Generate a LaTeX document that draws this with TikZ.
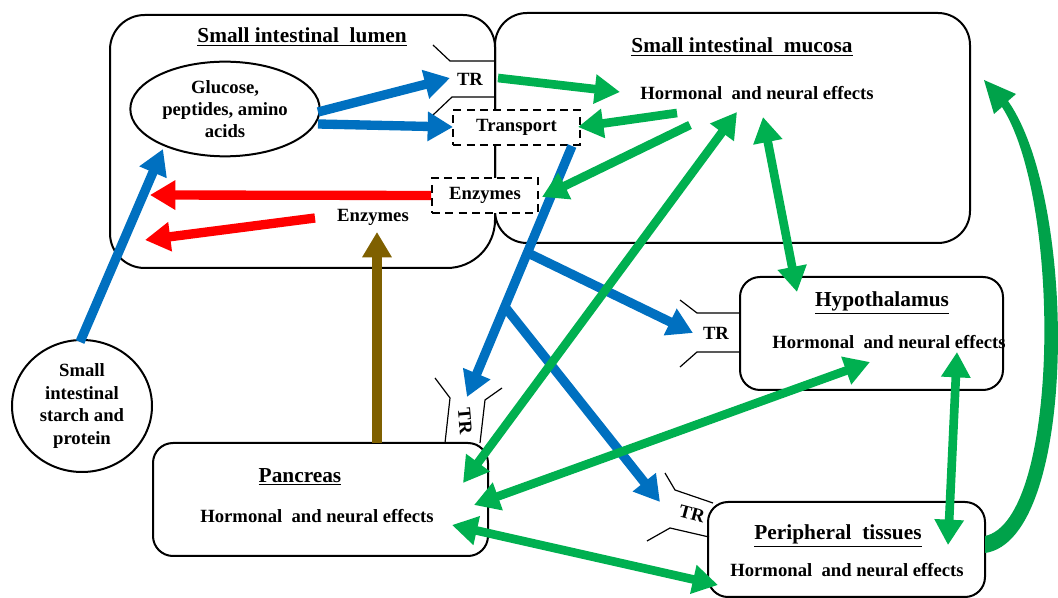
\documentclass[tikz,border=0pt]{standalone}
\usepackage{fontspec}
\setmainfont{Liberation Serif}
\usetikzlibrary{arrows.meta,fit,shapes.geometric}
\definecolor{cblue}{RGB}{0,112,192}
\definecolor{cgreen}{RGB}{0,176,80}
\definecolor{cred}{RGB}{255,0,0}
\definecolor{cbrown}{RGB}{127,96,0}
\begin{document}
\begin{tikzpicture}[x=0.75pt,y=-0.75pt,
  frame/.style={draw,line width=1.5pt},
  rbox/.style={draw,line width=1.5pt,rounded corners=15pt,inner sep=0pt},
  dbox/.style={draw,line width=1.4pt,dash pattern=on 6pt off 4pt,fill=white,inner sep=0pt,font=\bfseries\fontsize{14}{17}\selectfont},
  txt/.style={font=\bfseries\fontsize{14}{17}\selectfont,align=center,inner sep=1pt},
  ttl/.style={font=\bfseries\fontsize{16}{19}\selectfont,inner sep=1pt},
  rec/.style={line width=0.9pt},
  barr/.style={line width=7pt,-{Triangle[length=19pt,width=21pt]}},
  garr/.style={line width=6.5pt,cgreen,-{Triangle[length=19pt,width=21pt]}},
  gdarr/.style={line width=6.5pt,cgreen,{Triangle[length=19pt,width=21pt]}-{Triangle[length=19pt,width=21pt]}}]
\useasboundingbox (0,0) rectangle (1058,598);

% ---------- big boxes ----------
\draw[frame,rounded corners=24pt] (300,15) -- (495,15) -- (495,150);
\draw[frame,rounded corners=36pt] (495,150) -- (495,268) -- (300,268);
\draw[frame,rounded corners=26pt] (300,268) -- (110,268) -- (110,15) -- (300,15);
\draw[frame,rounded corners=24pt] (495,13) rectangle (970,243);

\node[rbox,fit={(740,277) (1003,390)}] (hyp) {};
\node[rbox,fit={(708,502) (985,597)}] (per) {};
\node[rbox,fit={(153,443) (488,556)}] (pan) {};

\node[draw,ellipse,line width=1.5pt,minimum width=142pt,minimum height=71pt,inner sep=0pt,
      font=\bfseries\fontsize{14}{16.5}\selectfont,align=center] (glu) at (225,109)
      {Glucose,\\peptides, amino\\acids};
\node[draw,ellipse,line width=1.5pt,minimum width=105pt,minimum height=99pt,inner sep=0pt,
      font=\bfseries\fontsize{14}{17}\selectfont,align=center] (sta) at (82,406)
      {Small\\intestinal\\starch and\\protein};

% ---------- receptors ----------
\draw[rec] (433,45) -- (450,61) -- (495,61);
\draw[rec] (433,115) -- (452,97) -- (495,97);
\draw[rec] (680,300) -- (697,313) -- (740,313);
\draw[rec] (680,367) -- (697,352) -- (740,352);
\draw[rec] (435,378) -- (450,398) -- (445,443);
\draw[rec] (502,388) -- (485,400) -- (480,443);
\draw[rec] (665,473) -- (675,490) -- (713,503);
\draw[rec] (647,541) -- (670,528) -- (709,537);

\node[txt] (tr1) at (470,79) {TR};
\node[txt] (tr2) at (716,333) {TR};
\node[txt,rotate=-85,inner sep=0pt] (tr3) at (465,421) {TR};
\node[txt,rotate=-15,inner sep=0pt] (tr4) at (692,514) {TR};

% ---------- dashed boxes ----------
\node[dbox,minimum width=95pt,minimum height=26pt] (tra) at (516.5,127.5) {Transport};
\node[dbox,minimum width=79.5pt,minimum height=26pt] (enz) at (485,195.5) {Enzymes};

% ---------- texts ----------
\node[ttl] (lumt) at (302,37) {\underline{Small intestinal\ \ lumen}};
\node[ttl] (muct) at (742,47) {\underline{Small intestinal\ \ mucosa}};
\node[txt] (muce) at (757,93) {Hormonal\ \ and neural effects};
\node[txt] (enzl) at (373,217) {Enzymes};
\node[ttl] (hypt) at (882,303) {\underline{Hypothalamus}};
\node[txt] (hype) at (889,342) {Hormonal\ \ and neural effects};
\node[ttl] (pert) at (838,536) {\underline{Peripheral\ \ tissues}};
\node[txt] (pere) at (847,570) {Hormonal\ \ and neural effects};
\node[ttl] (pant) at (300,477) {\underline{Pancreas}};
\node[txt] (pane) at (317,516) {Hormonal\ \ and neural effects};

% ---------- connector end points ----------
\coordinate (b1s) at (80,342);   \coordinate (b1e) at (163,149);
\coordinate (b2s) at (318,112);  \coordinate (b2e) at (450,78);
\coordinate (b3s) at (318,124);  \coordinate (b3e) at (453,127);
\coordinate (bms) at (572,146);  \coordinate (bme) at (467,397);
\coordinate (bb1) at (528,253);  \coordinate (bb1e) at (693,333);
\coordinate (bb2) at (505,307);  \coordinate (bb2e) at (660,502);
\coordinate (r1e) at (150,195);
\coordinate (r2s) at (315,218);  \coordinate (r2e) at (145,240);
\coordinate (brs) at (377,443);  \coordinate (bre) at (377,232);
\coordinate (g1s) at (498,78);   \coordinate (g1e) at (620,92);
\coordinate (g2s) at (677,113);  \coordinate (g2e) at (578,127);
\coordinate (g3s) at (690,125);  \coordinate (g3e) at (542,197);
\coordinate (g4a) at (737,112);  \coordinate (g4b) at (463,483);
\coordinate (g5a) at (763,117);  \coordinate (g5b) at (797,292);
\coordinate (g6a) at (870,362);  \coordinate (g6b) at (474,505);
\coordinate (g7a) at (452,525);  \coordinate (g7b) at (718,585);
\coordinate (g8a) at (957,352);  \coordinate (g8b) at (948,545);

% ---------- arrows ----------
\draw[barr,cblue] (b1s) -- (b1e);
\draw[barr,cblue] (b2s) -- (b2e);
\draw[barr,cblue] (b3s) -- (b3e);
\draw[barr,cblue] (bms) -- (bme);
\draw[barr,cblue] (bb1) -- (bb1e);
\draw[barr,cblue] (bb2) -- (bb2e);

\draw[barr,cred] (enz.west) -- (r1e);
\draw[barr,cred] (r2s) -- (r2e);
\draw[barr,cbrown] (brs) -- (bre);

\draw[garr] (g1s) -- (g1e);
\draw[garr] (g2s) -- (g2e);
\draw[garr] (g3s) -- (g3e);
\draw[gdarr] (g4a) -- (g4b);
\draw[gdarr] (g5a) -- (g5b);
\draw[gdarr] (g6a) -- (g6b);
\draw[gdarr] (g7a) -- (g7b);
\draw[gdarr] (g8a) -- (g8b);

% curved arrow from peripheral tissues to mucosa
\fill[cgreen!92!black] (985,553) .. controls (1078,540) and (1078,200) .. (1008,101)
   -- (1016,94) -- (984,80) -- (994,114) -- (1002,107)
   .. controls (1062,200) and (1060,520) .. (985,536) -- cycle;
\end{tikzpicture}
\end{document}
